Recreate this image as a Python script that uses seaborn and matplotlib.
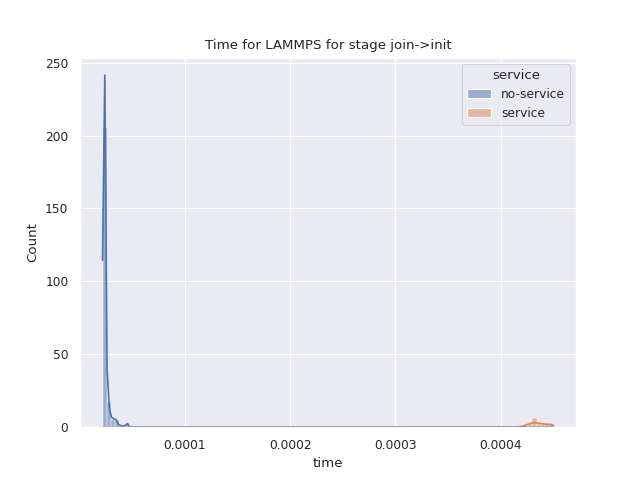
import numpy as np
import pandas as pd
import matplotlib
matplotlib.use("Agg")
import matplotlib.pyplot as plt
import seaborn as sns

# no-service times (s) and how often each was observed
ns_times = [2.20e-5, 2.25e-5, 2.30e-5, 2.35e-5, 2.40e-5, 2.45e-5, 2.50e-5, 2.55e-5,
            2.65e-5, 2.75e-5, 2.90e-5, 3.05e-5, 3.25e-5, 3.40e-5, 3.60e-5, 4.00e-5, 4.50e-5]
ns_counts = [5, 10, 30, 100, 35, 15, 6, 4, 8, 6, 3, 3, 2, 3, 2, 1, 2]

# service times (s)
sv_times = [4.22e-4, 4.27e-4, 4.30e-4, 4.33e-4, 4.36e-4, 4.40e-4, 4.44e-4, 4.48e-4, 4.50e-4]
sv_counts = [1, 2, 3, 3, 2, 2, 2, 2, 1]

df = pd.DataFrame({
    "time": np.concatenate([np.repeat(ns_times, ns_counts), np.repeat(sv_times, sv_counts)]),
    "service": ["no-service"] * sum(ns_counts) + ["service"] * sum(sv_counts),
})

sns.set_theme(context="paper")
plt.figure(figsize=(6.4, 4.8), dpi=100)
sns.histplot(data=df, x="time", hue="service", kde=True, bins=107)
plt.title("Time for LAMMPS for stage join->init")
plt.savefig("out.png")
